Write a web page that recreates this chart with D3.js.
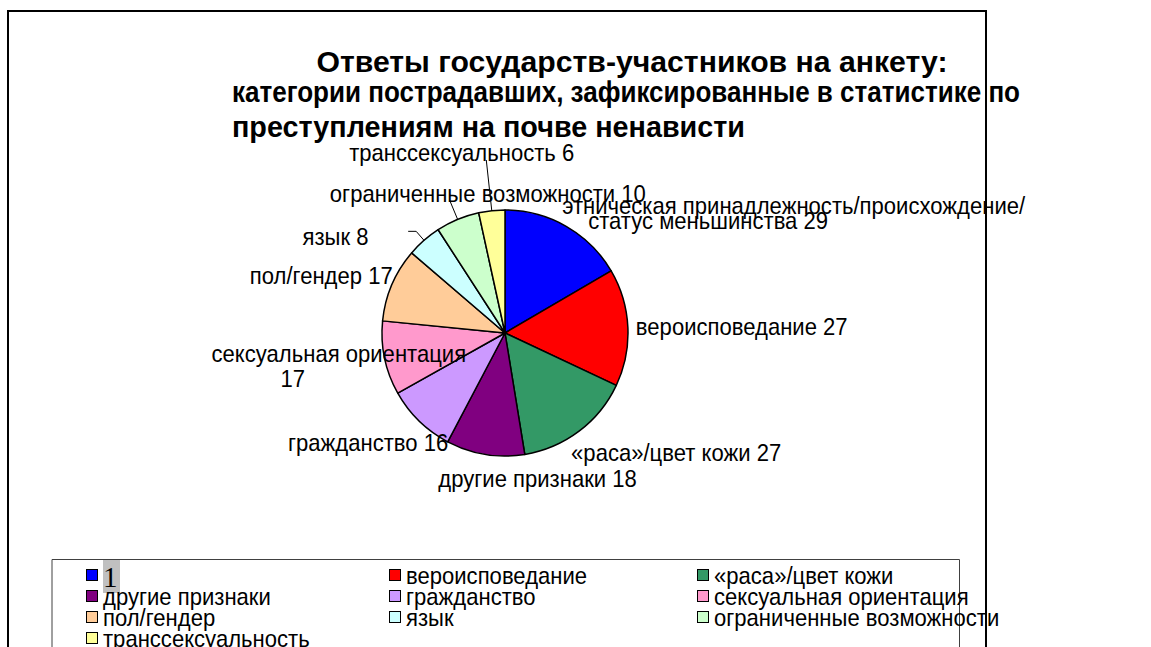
<!DOCTYPE html>
<html>
<head>
<meta charset="utf-8">
<script src="https://cdn.jsdelivr.net/npm/d3@7"></script>
<style>
  body { margin: 0; background: #fff; }
  svg text { font-family: Arial, "Liberation Sans", sans-serif; }
</style>
</head>
<body>
<svg class="chart"></svg>
<script>
// categories, in pie order (clockwise from 12 o'clock)
const categories = [
    "этническая принадлежность/происхождение/статус меньшинства",
    "вероисповедание",
    "«раса»/цвет кожи",
    "другие признаки",
    "гражданство",
    "сексуальная ориентация",
    "пол/гендер",
    "язык",
    "ограниченные возможности",
    "транссексуальность"
]
const counts = [29, 27, 27, 18, 16, 17, 17, 8, 10, 6]
const colors = ["#0000ff", "#ff0000", "#339966", "#800080", "#cc99ff",
                "#ff99cc", "#ffcc99", "#ccffff", "#ccffcc", "#ffff99"]

// legend shows "1" for the first entry, as in the source picture
const legendNames = ["1"].concat(categories.slice(1))

const titleLines = [
    "Ответы государств-участников на анкету:",
    "категории пострадавших, зафиксированные в статистике по",
    "преступлениям на почве ненависти"
]

// label lines (how the data labels wrap)
const labelLines = [
    ["этническая принадлежность/происхождение/", "статус меньшинства 29"],
    ["вероисповедание 27"],
    ["«раса»/цвет кожи 27"],
    ["другие признаки 18"],
    ["гражданство 16"],
    ["сексуальная ориентация", "17"],
    ["пол/гендер 17"],
    ["язык 8"],
    ["ограниченные возможности 10"],
    ["транссексуальность 6"]
]

let width = 1151
let height = 647

// the source text is a bit narrow and tall
const squeeze = 0.92

const svg = d3.select(".chart")
    .attr("width", width)
    .attr("height", height)

// layout of the labels, relative to a point just outside each slice
const labelLayout = [
    {anchor: "start",  shift: [[-9, -12], [17, 3]]},
    {anchor: "start",  shift: [[-2, -1]]},
    {anchor: "start",  shift: [[-14, 13]]},
    {anchor: "middle", shift: [[54, 14]]},
    {anchor: "end",    shift: [[36, 14]]},
    {anchor: "middle", shift: [[-36, -7], [-82, 18]]},
    {anchor: "end",    shift: [[10, -5]]},
    {anchor: "end",    shift: [[-49, 4]]},
    {anchor: "middle", shift: [[34, -17]]},
    {anchor: "middle", shift: [[-29, -48]]}
]
const leaderLen = [0, 0, 0, 0, 0, 0, 0, 12, 21, 51]
const leaderTail = [0, 0, 0, 0, 0, 0, 0, -8, 0, 0]

function draw_frame() {
    svg.append("path")
        .attr("d", `M8,${height + 5} V11 H986 V${height + 5}`)
        .attr("fill", "none")
        .attr("stroke", "black")
        .attr("stroke-width", 2)
}

function draw_title() {
    let g = svg.append("g")
        .attr("font-weight", "bold")
        .attr("font-size", 29)
        .attr("fill", "black")

    // [x, baseline, anchor, width]
    const spots = [[632, 72, "middle", 631], [232, 102, "start", 788], [232, 137, "start", 513]]

    titleLines.forEach((t, i) => {
        g.append("text")
            .attr("x", spots[i][0])
            .attr("y", spots[i][1])
            .attr("text-anchor", spots[i][2])
            .attr("textLength", spots[i][3])
            .attr("lengthAdjust", "spacingAndGlyphs")
            .text(t)
    })
}

function draw_pie() {
    const cx = 505, cy = 333, r = 123

    let pie = d3.pie().sort(null).value(d => d)
    let arcs = pie(counts)
    let arc = d3.arc().innerRadius(0).outerRadius(r)

    let g = svg.append("g")
        .attr("transform", `translate(${cx}, ${cy})`)

    g.selectAll("path.slice")
        .data(arcs)
        .enter()
        .append("path")
        .classed("slice", true)
        .attr("d", arc)
        .attr("fill", (d, i) => colors[i])
        .attr("stroke", "black")
        .attr("stroke-width", 1.5)
        .attr("stroke-linejoin", "round")

    const mid = d => (d.startAngle + d.endAngle) / 2
    const pt = (a, rr) => [rr * Math.sin(a), -rr * Math.cos(a)]

    // leader lines
    arcs.forEach((d, i) => {
        if (!leaderLen[i]) return
        let a = mid(d)
        let p0 = pt(a, r)
        let p1 = pt(a, r + leaderLen[i])
        let pts = [p0, p1]
        if (leaderTail[i]) pts.push([p1[0] + leaderTail[i], p1[1]])
        g.append("path")
            .attr("d", d3.line()(pts))
            .attr("fill", "none")
            .attr("stroke", "black")
            .attr("stroke-width", 1)
    })

    // data labels
    arcs.forEach((d, i) => {
        let p = pt(mid(d), r + 10)
        labelLines[i].forEach((line, j) => {
            let s = labelLayout[i].shift[j]
            g.append("text")
                .attr("transform", `translate(${p[0] + s[0]}, ${p[1] + s[1]}) scale(${squeeze}, 1)`)
                .attr("dy", "0.36em")
                .attr("text-anchor", labelLayout[i].anchor)
                .attr("font-size", 24)
                .attr("fill", "black")
                .text(line)
        })
    })
}

function draw_legend() {
    const colX = [86, 389, 697]
    const rowY = 575, rowH = 21

    svg.append("path")
        .attr("d", `M52,${height + 5} V559.5 H959.5 V${height + 5}`)
        .attr("fill", "none")
        .attr("stroke", "#404040")
        .attr("stroke-width", 1)

    let items = svg.append("g")
        .selectAll("g.item")
        .data(legendNames)
        .enter()
        .append("g")
        .classed("item", true)
        .attr("transform", (d, i) =>
            `translate(${colX[i % 3]}, ${rowY + Math.floor(i / 3) * rowH})`)

    items.append("rect")
        .attr("x", 0.5).attr("y", -5.5)
        .attr("width", 11).attr("height", 11)
        .attr("fill", (d, i) => colors[i])
        .attr("stroke", "black")
        .attr("stroke-width", 1)

    items.filter((d, i) => i === 0)
        .append("rect")
        .attr("x", 17).attr("y", -15)
        .attr("width", 17).attr("height", 33)
        .attr("fill", "#c0c0c0")

    items.append("text")
        .attr("transform", (d, i) => i === 0 ? "translate(17, 0)" : `translate(17, 0) scale(${squeeze}, 1)`)
        .attr("dy", (d, i) => i === 0 ? "0.4em" : "0.36em")
        .attr("font-size", (d, i) => i === 0 ? 29 : 24)
        .style("font-family", (d, i) => i === 0 ? "'Liberation Serif', 'Times New Roman', serif" : null)
        .attr("fill", "black")
        .text(d => d)
}

draw_frame()
draw_title()
draw_pie()
draw_legend()
</script>
</body>
</html>
